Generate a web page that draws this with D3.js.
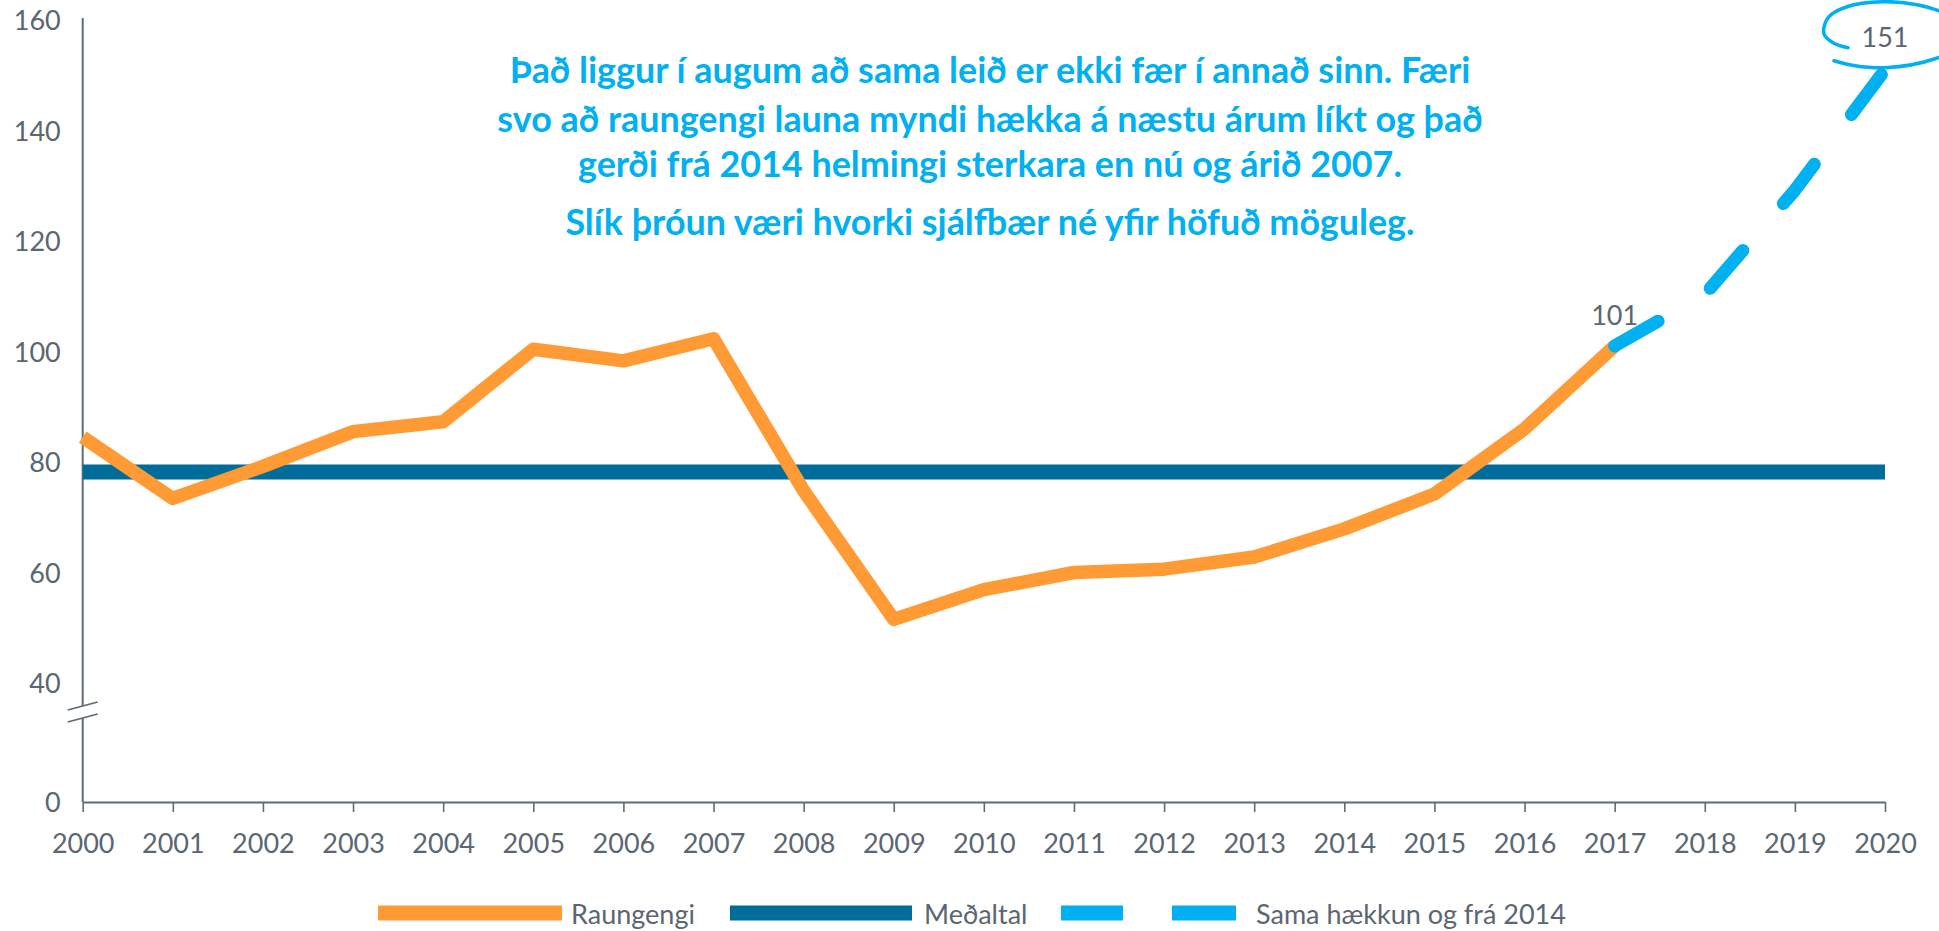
<!DOCTYPE html>
<html>
<head>
<meta charset="utf-8">
<script src="https://cdn.jsdelivr.net/npm/d3@7"></script>
<style>
  html, body { margin: 0; padding: 0; background: #fff; }
  svg { display: block; }
</style>
</head>
<body>
<svg id="chart" width="1939" height="931"></svg>
<script>
// ---------------- DATA ----------------
const years = [2000, 2001, 2002, 2003, 2004, 2005, 2006, 2007, 2008, 2009,
               2010, 2011, 2012, 2013, 2014, 2015, 2016, 2017];
const raungengi = [84.5, 73.4, 79.2, 85.5, 87.3, 100.4, 98.3, 102.3, 74.8, 51.5,
                   56.9, 60.0, 60.6, 62.8, 67.9, 74.2, 86.0, 101.0];
const meanYears = [2000, 2020];
const medaltal = [78.2, 78.2];
const projYears = [2017, 2018, 2019, 2020];
const projValues = [101.0, 110.3, 129.2, 151.0];
const xTicks = d3.range(2000, 2021);
const yTicks = [0, 40, 60, 80, 100, 120, 140, 160];
const legendLabels = ["Raungengi", "Meðaltal", "", "Sama hækkun og frá 2014"];
const annotationLines = [
  "Það liggur í augum að sama leið er ekki fær í annað sinn. Færi",
  "svo að raungengi launa myndi hækka á næstu árum líkt og það",
  "gerði frá 2014 helmingi sterkara en nú og árið 2007.",
  "Slík þróun væri hvorki sjálfbær né yfir höfuð möguleg."
];
const labelStart = "101";
const labelEnd = "151";

// ---------------- STYLE ----------------
const C_ORANGE = "#FF9A35";
const C_MEAN = "#006C9A";
const C_PROJ = "#00B0F0";
const C_AXIS = "#5F6B77";
const C_TEXT = "#5A6672";
const FONT = "Lato, 'Open Sans', sans-serif";

const svg = d3.select("#chart");

const x = d3.scaleLinear().domain([2000, 2020]).range([82.7, 1885]);
// broken axis: 0..40 compressed
const y = d3.scaleLinear().domain([0, 40, 160]).range([802, 683, 20]);

// ---------------- AXES ----------------
// x axis
const xAxis = svg.append("g")
  .attr("transform", `translate(0,${y(0)})`)
  .call(d3.axisBottom(x).tickValues(xTicks).tickFormat(d3.format("d")).tickSize(10).tickSizeOuter(0));
xAxis.select(".domain").attr("stroke", C_AXIS).attr("stroke-width", 2);
xAxis.selectAll(".tick line").attr("stroke", C_AXIS).attr("stroke-width", 1.6);
xAxis.selectAll(".tick text")
  .attr("y", 41).attr("dy", "0.36em")
  .attr("fill", C_TEXT).style("font-family", FONT).style("font-size", "27px");

// y axis labels
const yAxis = svg.append("g")
  .attr("transform", `translate(${x(2000)},0)`)
  .call(d3.axisLeft(y).tickValues(yTicks).tickFormat(d3.format("d")).tickSize(0).tickPadding(22));
yAxis.select(".domain").remove();
yAxis.selectAll(".tick text")
  .attr("dy", "0.36em")
  .attr("fill", C_TEXT).style("font-family", FONT).style("font-size", "27px");

// y axis line with break
const ax = x(2000);
const breakTop = y(40) + 23, breakBot = y(40) + 35;
svg.append("line").attr("x1", ax).attr("x2", ax).attr("y1", y(160) - 2).attr("y2", breakTop)
  .attr("stroke", C_AXIS).attr("stroke-width", 2);
svg.append("line").attr("x1", ax).attr("x2", ax).attr("y1", breakBot).attr("y2", y(0))
  .attr("stroke", C_AXIS).attr("stroke-width", 2);
[breakTop, breakBot].forEach(b => {
  svg.append("line")
    .attr("x1", ax - 15).attr("y1", b + 4)
    .attr("x2", ax + 15).attr("y2", b - 4)
    .attr("stroke", C_AXIS).attr("stroke-width", 1.8);
});

// ---------------- SERIES ----------------
const lineGen = d3.line().x(d => x(d[0])).y(d => y(d[1]));

// mean line
svg.append("path")
  .datum(meanYears.map((yr, i) => [yr, medaltal[i]]))
  .attr("d", lineGen)
  .attr("fill", "none").attr("stroke", C_MEAN).attr("stroke-width", 15);

// raungengi
svg.append("path")
  .datum(years.map((yr, i) => [yr, raungengi[i]]))
  .attr("d", lineGen)
  .attr("fill", "none").attr("stroke", C_ORANGE).attr("stroke-width", 13.5)
  .attr("stroke-linejoin", "round");

// projection
svg.append("path")
  .datum(projYears.map((yr, i) => [yr, projValues[i]]))
  .attr("d", lineGen)
  .attr("fill", "none").attr("stroke", C_PROJ).attr("stroke-width", 13)
  .attr("stroke-linecap", "round").attr("stroke-linejoin", "round")
  .attr("stroke-dasharray", "50 62");

// data labels
svg.append("text")
  .attr("x", x(projYears[0])).attr("y", y(projValues[0]) - 21)
  .attr("text-anchor", "middle")
  .attr("fill", C_TEXT).style("font-family", FONT).style("font-size", "27px")
  .text(labelStart);
const ex = x(projYears[projYears.length - 1]);
const ey = y(projValues[projValues.length - 1]);
svg.append("text")
  .attr("x", ex).attr("y", ey - 23)
  .attr("text-anchor", "middle")
  .attr("fill", C_TEXT).style("font-family", FONT).style("font-size", "27px")
  .text(labelEnd);

// hand-drawn loop around the end label
const loopOffsets = [
  [-37, -22], [-52, -27], [-61, -36], [-57, -52], [-38, -63], [-2, -68],
  [32, -65], [60, -56], [80, -40], [76, -25], [50, -11], [0, -2], [-30, -4], [-51, -9]
];
svg.append("path")
  .datum(loopOffsets)
  .attr("d", d3.line().x(d => ex + d[0]).y(d => ey + d[1]).curve(d3.curveCatmullRom))
  .attr("fill", "none").attr("stroke", C_PROJ).attr("stroke-width", 3.5)
  .attr("stroke-linecap", "round");

// ---------------- ANNOTATION ----------------
const annG = svg.append("g");
const annY = [70, 119, 164, 222];
const annTexts = annotationLines.map((t, i) =>
  annG.append("text")
    .attr("x", 990).attr("y", annY[i]).attr("dy", "0.36em")
    .attr("text-anchor", "middle")
    .attr("fill", C_PROJ)
    .style("font-family", FONT).style("font-weight", "bold").style("font-size", "28px")
    .text(t));
const w0 = annTexts[0].node().getComputedTextLength();
const fs = 28 * 961 / w0;
annTexts.forEach(t => t.style("font-size", fs + "px"));

// ---------------- LEGEND ----------------
const legendItems = [
  { color: C_ORANGE, x0: 378, x1: 562, label: legendLabels[0], tx: 571 },
  { color: C_MEAN, x0: 730, x1: 912, label: legendLabels[1], tx: 924 },
  { color: C_PROJ, x0: 1061, x1: 1123, label: legendLabels[2], tx: 1130 },
  { color: C_PROJ, x0: 1172, x1: 1236, label: legendLabels[3], tx: 1256 }
];
const lg = svg.append("g");
legendItems.forEach(it => {
  lg.append("rect").attr("x", it.x0).attr("y", 905.5).attr("width", it.x1 - it.x0).attr("height", 15)
    .attr("fill", it.color);
  if (it.label) {
    lg.append("text").attr("x", it.tx).attr("y", 924)
      .attr("fill", C_TEXT).style("font-family", FONT).style("font-size", "27px")
      .text(it.label);
  }
});
</script>
</body>
</html>
